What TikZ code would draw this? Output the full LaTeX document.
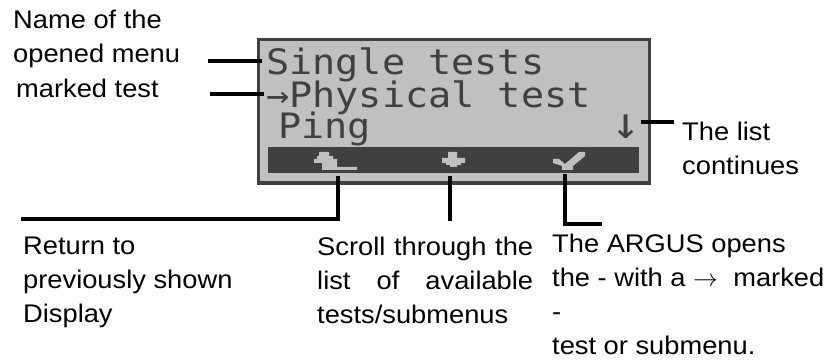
\documentclass[tikz,border=0pt]{standalone}
\usepackage{fontspec}
\setmainfont{Liberation Sans}[FakeStretch=1.07]
\newfontfamily\lcdfont{DejaVu Sans Mono}[FakeStretch=1.1]
\definecolor{lcdlight}{HTML}{C0C0C0}
\definecolor{lcddark}{HTML}{404040}

\begin{document}
\begin{tikzpicture}[x=1pt, y=-1pt,
    note/.style={anchor=base west, inner sep=0pt, align=left,
        font=\fontsize{25.5}{34}\selectfont},
    lcdtext/.style={anchor=base west, inner sep=0pt, text=lcddark,
        font=\lcdfont\fontsize{35}{35}\selectfont},
    pointer/.style={black, line width=4pt},
    keyicon/.style={fill=lcdlight, draw=none}]
    \useasboundingbox (0,0) rectangle (831,363);

    % display
    \draw [lcddark, fill=lcdlight, line width=3.5pt] (258.5,39.5) rectangle (649.5,183);
    \fill [lcddark] (268,147) rectangle (639,173);

    \node[lcdtext] (title) at (266,75) {Single tests};
    \node[lcdtext] (marked) at (266,108) {→Physical test};
    \node[lcdtext] (ping) at (278,139) {Ping};
    \node[lcdtext, anchor=base, font=\lcdfont\fontsize{44}{44}\selectfont]
        (more) at (626,139) {↓};

    % soft keys
    \fill [keyicon] (319,152) -- (329,152) -- (329,156) -- (333,156) -- (333,159)
        -- (337,159) -- (337,167) -- (357,167) -- (357,170) -- (322,170)
        -- (322,163) -- (314,163) -- (314,159) -- (317,159) -- (317,156)
        -- (319,156) -- cycle;
    \fill [keyicon] (448,152) -- (457,152) -- (457,158) -- (465,158) -- (465,163)
        -- (461,163) -- (461,165) -- (457,165) -- (457,167) -- (450,167)
        -- (450,165) -- (446,165) -- (446,163) -- (442,163) -- (442,158)
        -- (448,158) -- cycle;
    \fill [keyicon] (553,159) -- (559,159) -- (565,164) -- (579,152) -- (585,152)
        -- (585,156) -- (573,166) -- (573,170) -- (562,170) -- (562,166)
        -- (553,163) -- cycle;

    % labels (placed at the baseline of their last line)
    \node[note] (menuname) at (13,63) {Name of the\\opened menu};
    \node[note] (markedtest) at (16,98) {marked test};
    \node[note] (listgoes) at (682,175) {The list\\continues};
    \node[note] (goback) at (23,323) {Return to\\previously shown\\Display};
    % text width gives a minipage, so this one sits on its first line
    \node[note, text width=216pt] (scroll) at (317,256)
        {Scroll\hfill through\hfill the\\list\hfill of\hfill available\\tests/submenus};
    \node[note] (confirm) at (552,355)
        {The ARGUS opens\\the - with a $\rightarrow$\ \ marked\\-\\test or submenu.};

    % pointers
    \coordinate (menuend) at (208,61);
    \coordinate (menutip) at (262,61);
    \coordinate (markend) at (210,94);
    \coordinate (marktip) at (264,94);
    \coordinate (moreend) at (674,122);
    \coordinate (backkey) at (338,176);
    \coordinate (backend) at (21,219);
    \coordinate (downkey) at (450,176);
    \coordinate (downend) at (450,221);
    \coordinate (okkey) at (565,174);
    \coordinate (okend) at (602,224);

    \draw [pointer] (menuend) -- (menutip);
    \draw [pointer] (markend) -- (marktip);
    \draw [pointer] (more.east |- moreend) -- (moreend);
    \draw [pointer] (backkey) |- (backend);
    \draw [pointer] (downkey) -- (downend);
    \draw [pointer] (okkey) |- (okend);
\end{tikzpicture}
\end{document}
